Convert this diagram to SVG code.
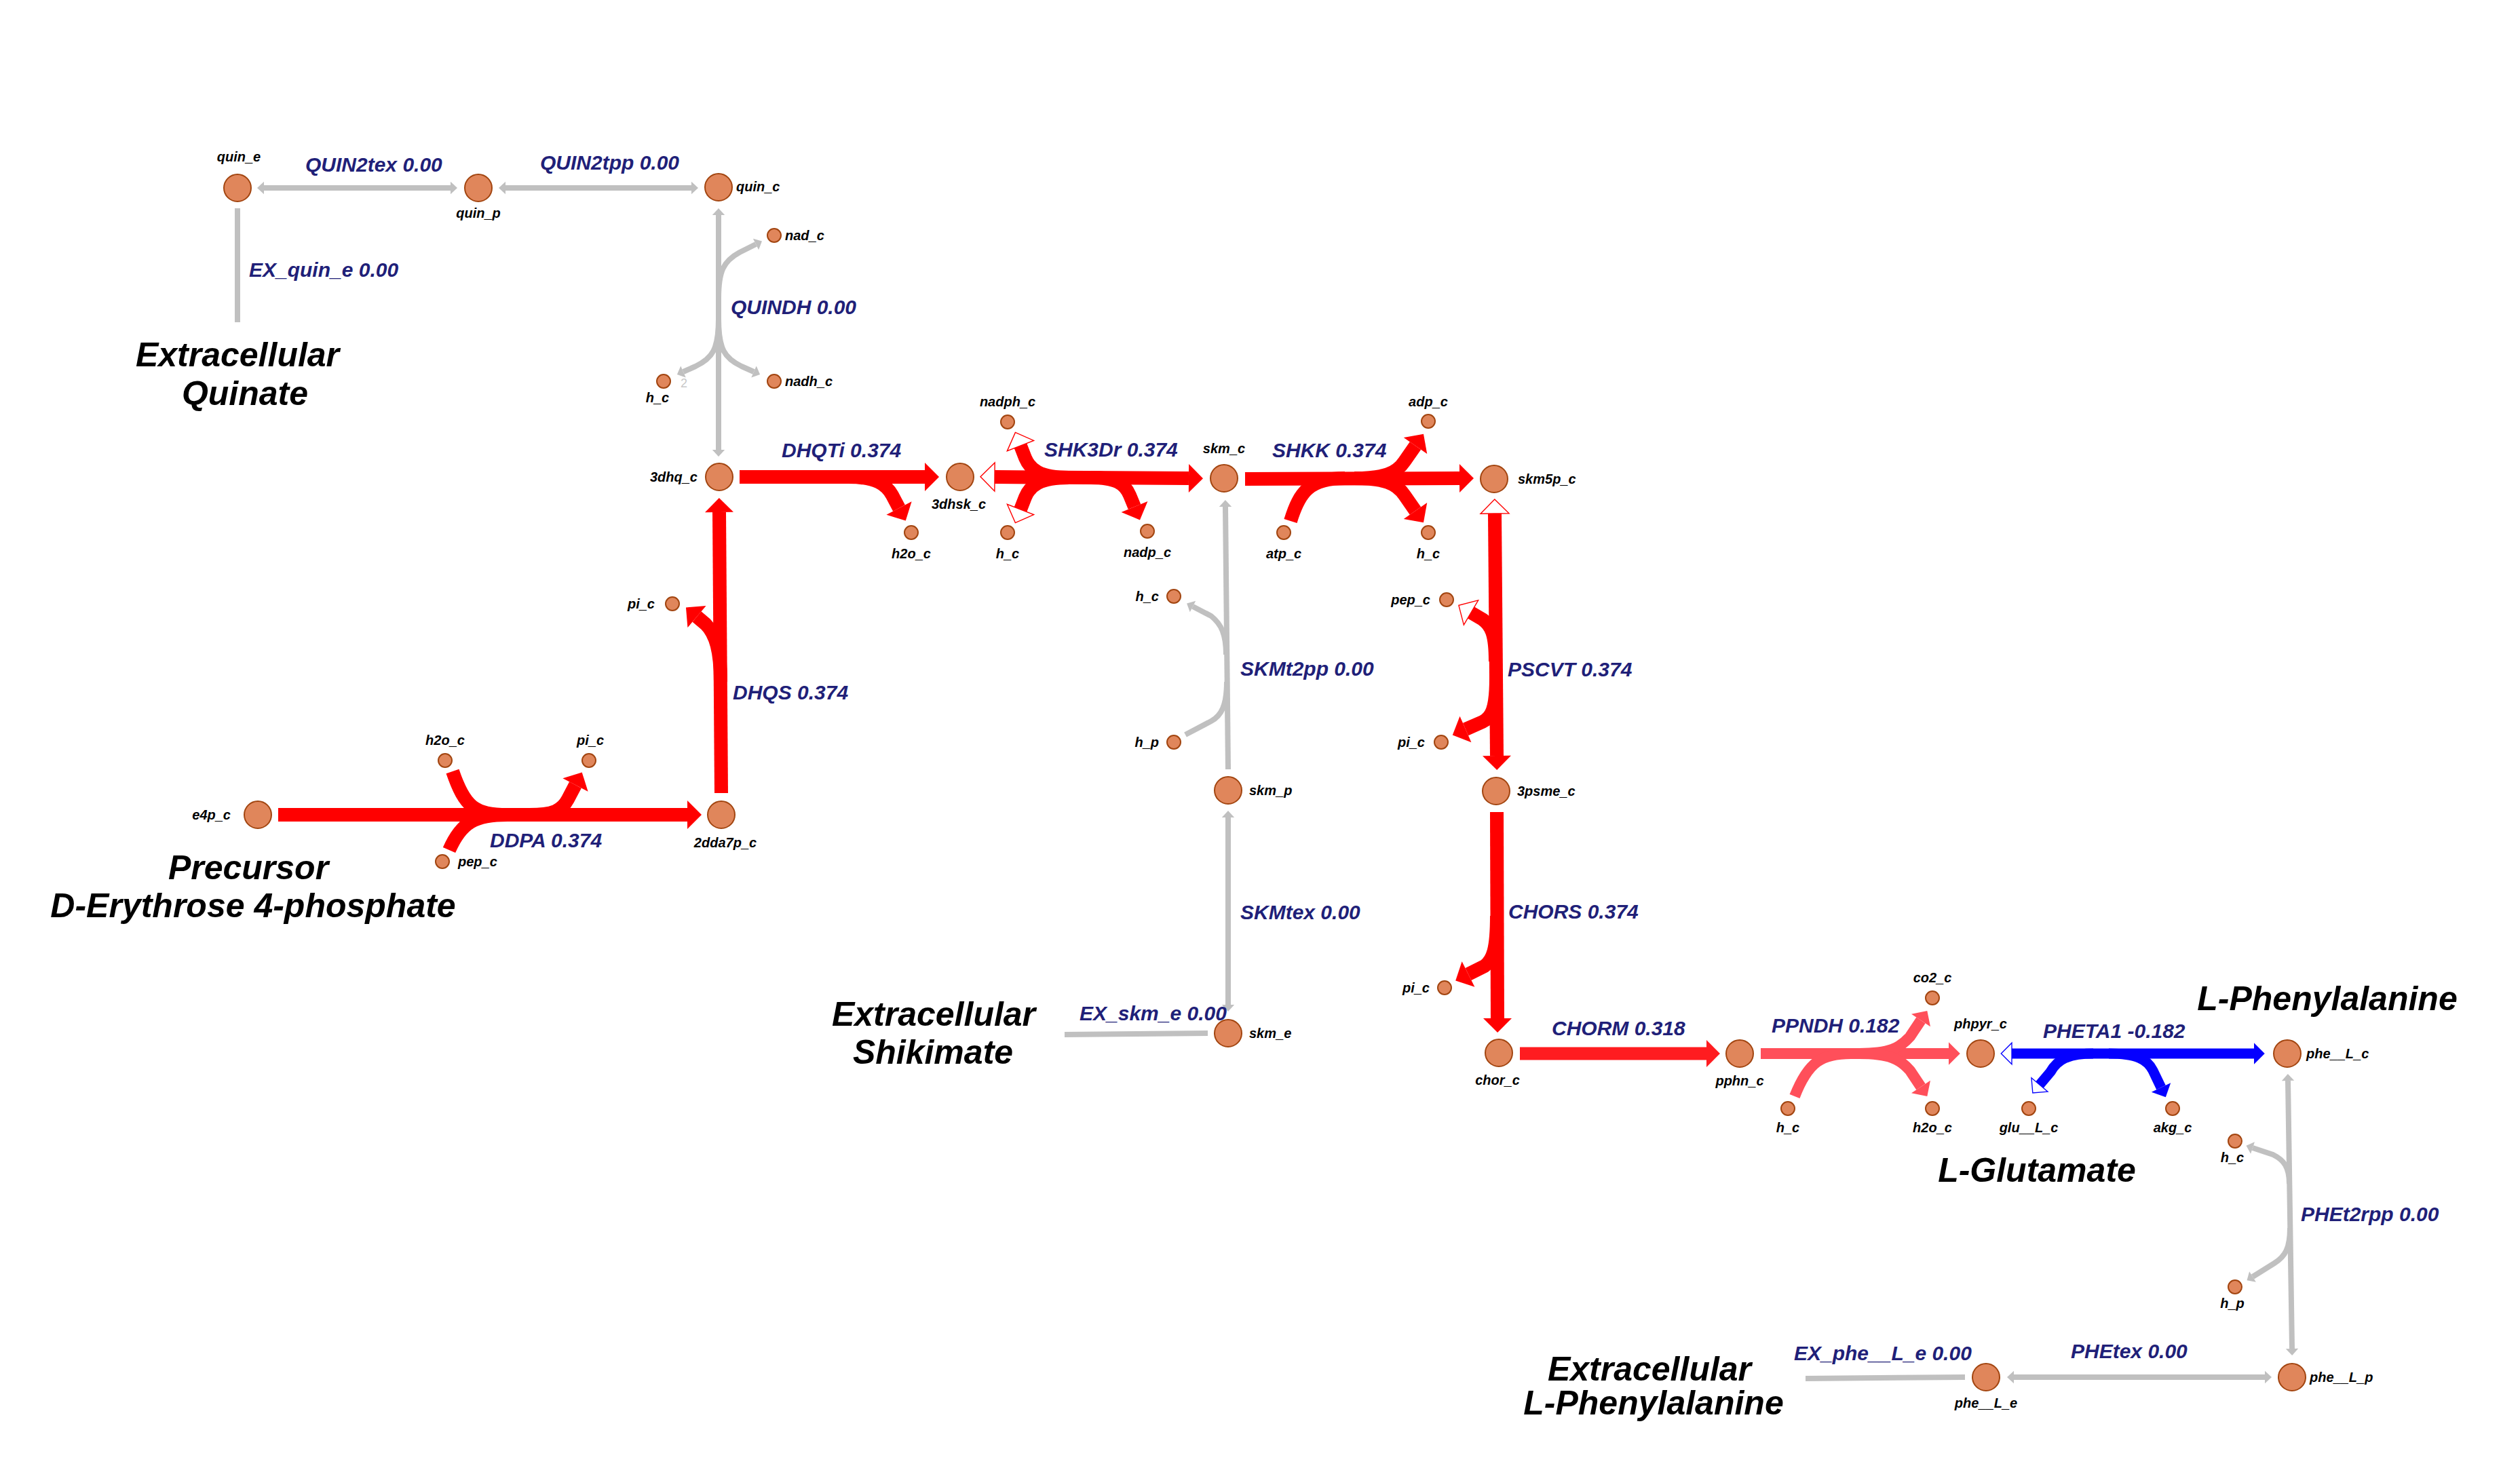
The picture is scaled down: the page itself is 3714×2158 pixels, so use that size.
<svg xmlns="http://www.w3.org/2000/svg" width="3714" height="2158" viewBox="0 0 3714 2158">
  <style>
    .s { fill: none; stroke-linecap: butt; stroke-linejoin: round; }
    .red { stroke: #ff0000; stroke-width: 20; }
    .red2 { stroke: #ff1c20; stroke-width: 19; }
    .pink { stroke: #ff4f5a; stroke-width: 16; }
    .blue { stroke: #0500ff; stroke-width: 15; }
    .gray { stroke: #c0c0c0; stroke-width: 8; }
    .met circle { fill: #e0865b; stroke: #a24510; stroke-width: 2; }
    text { font-family: "Liberation Sans", Arial, sans-serif; font-style: italic; font-weight: bold; }
    .m { font-size: 20px; fill: #000; }
    .r { font-size: 30px; fill: #202078; }
    .big { font-size: 50px; fill: #000; text-anchor: middle; }
    .st { font-size: 18px; font-style: normal; font-weight: normal; fill: #c8c8c8; }
    .c { text-anchor: middle; }
    .e { text-anchor: end; }
  </style>
  <defs>
    <!-- arrowheads scale with the stroke width of the path they end -->
    <marker id="arR" viewBox="0 -1.05 1.05 2.1" markerWidth="1.05" markerHeight="2.1" refX="0" refY="0" orient="auto-start-reverse" overflow="visible">
      <path d="M0,-1.05 L1.05,0 L0,1.05 Z" fill="#ff0000"/>
    </marker>
    <marker id="hoR" viewBox="0 -1.05 1.05 2.1" markerWidth="1.05" markerHeight="2.1" refX="0" refY="0" orient="auto-start-reverse" overflow="visible">
      <path d="M0,-1.05 L1.05,0 L0,1.05 Z" fill="#ffffff" stroke="#ff0000" stroke-width="0.07"/>
    </marker>
    <marker id="arR2" viewBox="0 -1.05 1.05 2.1" markerWidth="1.05" markerHeight="2.1" refX="0" refY="0" orient="auto-start-reverse" overflow="visible">
      <path d="M0,-1.05 L1.05,0 L0,1.05 Z" fill="#ff1c20"/>
    </marker>
    <marker id="arP" viewBox="0 -1.05 1.05 2.1" markerWidth="1.05" markerHeight="2.1" refX="0" refY="0" orient="auto-start-reverse" overflow="visible">
      <path d="M0,-1.05 L1.05,0 L0,1.05 Z" fill="#ff4f5a"/>
    </marker>
    <marker id="arB" viewBox="0 -1.05 1.05 2.1" markerWidth="1.05" markerHeight="2.1" refX="0" refY="0" orient="auto-start-reverse" overflow="visible">
      <path d="M0,-1.05 L1.05,0 L0,1.05 Z" fill="#0500ff"/>
    </marker>
    <marker id="hoB" viewBox="0 -1.05 1.05 2.1" markerWidth="1.05" markerHeight="2.1" refX="0" refY="0" orient="auto-start-reverse" overflow="visible">
      <path d="M0,-1.05 L1.05,0 L0,1.05 Z" fill="#ffffff" stroke="#0500ff" stroke-width="0.09"/>
    </marker>
    <marker id="arG" viewBox="0 -1.15 1.25 2.3" markerWidth="1.25" markerHeight="2.3" refX="0" refY="0" orient="auto-start-reverse" overflow="visible">
      <path d="M0,-1.15 L1.25,0 L0,1.15 Z" fill="#c0c0c0"/>
    </marker>
  </defs>

  <rect width="3714" height="2158" fill="#ffffff"/>

  <!-- reactions -->
  <g id="connectors">
    <g id="QUIN2tex">
      <path class="s gray" d="M389,277 L664,277" marker-start="url(#arG)" marker-end="url(#arG)"/>
      <text class="r" x="450" y="253">QUIN2tex 0.00</text>
    </g>
    <g id="QUIN2tpp">
      <path class="s gray" d="M745,277 L1019,277" marker-start="url(#arG)" marker-end="url(#arG)"/>
      <text class="r" x="796" y="250">QUIN2tpp 0.00</text>
    </g>
    <g id="EX_quin_e">
      <path class="s gray" d="M350,307 L350,475"/>
      <text class="r" x="367" y="408">EX_quin_e 0.00</text>
    </g>
    <g id="QUINDH">
      <path class="s gray" d="M1059,317 L1059,663" marker-start="url(#arG)" marker-end="url(#arG)"/>
      <path class="s gray" d="M1059,440 C1059,400 1066,385 1090,372 L1114,360" marker-end="url(#arG)"/>
      <path class="s gray" d="M1059,470 C1059,515 1050,528 1025,540 L1007,548" marker-end="url(#arG)"/>
      <path class="s gray" d="M1059,470 C1059,515 1068,528 1093,540 L1111,548" marker-end="url(#arG)"/>
      <text class="st" x="1003" y="571">2</text>
      <text class="r" x="1077" y="463">QUINDH 0.00</text>
    </g>
    <g id="DHQTi">
      <path class="s red" d="M1090,703 L1363,703" marker-end="url(#arR)"/>
      <path class="s red" d="M1250,703 C1292,703 1306,714 1315,730 L1325,749" marker-end="url(#arR)"/>
      <text class="r" x="1152" y="674">DHQTi 0.374</text>
    </g>
    <g id="SHK3Dr">
      <path class="s red" d="M1466,703 L1752,705" marker-start="url(#hoR)" marker-end="url(#arR)"/>
      <path class="s red" d="M1575,704 C1532,704 1518,692 1511,675 L1504,657" marker-end="url(#hoR)"/>
      <path class="s red" d="M1575,704 C1532,704 1518,716 1511,733 L1504,751" marker-end="url(#hoR)"/>
      <path class="s red" d="M1608,704 C1645,704 1658,713 1665,730 L1672,747" marker-end="url(#arR)"/>
      <text class="r" x="1539" y="673">SHK3Dr 0.374</text>
    </g>
    <g id="SHKK">
      <path class="s red" d="M1835,706 L2151,705" marker-end="url(#arR)"/>
      <path class="s red" d="M1902,768 C1915,725 1930,705 1982,705"/>
      <path class="s red" d="M1996,705 C2040,705 2058,698 2070,680 L2086,657" marker-end="url(#arR)"/>
      <path class="s red" d="M1996,705 C2040,705 2058,712 2070,730 L2086,753" marker-end="url(#arR)"/>
      <text class="r" x="1875" y="674">SHKK 0.374</text>
    </g>
    <g id="DHQS">
      <path class="s red" d="M1063,1169 L1060,755" marker-end="url(#arR)"/>
      <path class="s red" d="M1062,1005 C1062,960 1055,935 1040,920 L1027,909" marker-end="url(#arR)"/>
      <text class="r" x="1080" y="1031">DHQS 0.374</text>
    </g>
    <g id="DDPA">
      <path class="s red" d="M410,1201 L1013,1201" marker-end="url(#arR)"/>
      <path class="s red" d="M667,1137 C685,1190 700,1201 748,1201"/>
      <path class="s red" d="M662,1253 C680,1212 700,1201 748,1201"/>
      <path class="s red" d="M780,1201 C815,1201 828,1195 837,1178 L848,1157" marker-end="url(#arR)"/>
      <text class="r" x="722" y="1249">DDPA 0.374</text>
    </g>
    <g id="SKMt2pp">
      <path class="s gray" d="M1810,1134 L1806,747" marker-end="url(#arG)"/>
      <path class="s gray" d="M1807,965 C1807,935 1800,920 1785,908 L1758,894" marker-end="url(#arG)"/>
      <path class="s gray" d="M1808,1005 C1808,1040 1800,1055 1785,1063 L1747,1083"/>
      <text class="r" x="1828" y="996">SKMt2pp 0.00</text>
    </g>
    <g id="SKMtex">
      <path class="s gray" d="M1810,1481 L1810,1205" marker-start="url(#arG)" marker-end="url(#arG)"/>
      <text class="r" x="1828" y="1355">SKMtex 0.00</text>
    </g>
    <g id="EX_skm_e">
      <path class="s gray" d="M1569,1525 L1780,1523"/>
      <text class="r" x="1591" y="1504">EX_skm_e 0.00</text>
    </g>
    <g id="PSCVT">
      <path class="s red" d="M2203,757 L2206,1114" marker-start="url(#hoR)" marker-end="url(#arR)"/>
      <path class="s red" d="M2204,975 C2204,935 2198,922 2185,913 L2168,903" marker-end="url(#hoR)"/>
      <path class="s red" d="M2205,1000 C2205,1045 2198,1058 2185,1064 L2160,1075" marker-end="url(#arR)"/>
      <text class="r" x="2222" y="997">PSCVT 0.374</text>
    </g>
    <g id="CHORS">
      <path class="s red" d="M2206,1197 L2207,1501" marker-end="url(#arR)"/>
      <path class="s red" d="M2206,1350 C2206,1400 2200,1415 2188,1424 L2164,1436" marker-end="url(#arR)"/>
      <text class="r" x="2223" y="1354">CHORS 0.374</text>
    </g>
    <g id="CHORM">
      <path class="s red2" d="M2240,1553 L2515,1553" marker-end="url(#arR2)"/>
      <text class="r" x="2287" y="1526">CHORM 0.318</text>
    </g>
    <g id="PPNDH">
      <path class="s pink" d="M2595,1553 L2872,1553" marker-end="url(#arP)"/>
      <path class="s pink" d="M2645,1616 C2665,1565 2685,1553 2728,1553"/>
      <path class="s pink" d="M2740,1553 C2785,1553 2800,1545 2815,1528 L2831,1504" marker-end="url(#arP)"/>
      <path class="s pink" d="M2740,1553 C2785,1553 2800,1561 2815,1578 L2831,1602" marker-end="url(#arP)"/>
      <text class="r" x="2611" y="1522">PPNDH 0.182</text>
    </g>
    <g id="PHETA1">
      <path class="s blue" d="M2965,1553 L3322,1553" marker-start="url(#hoB)" marker-end="url(#arB)"/>
      <path class="s blue" d="M3085,1553 C3048,1553 3032,1562 3022,1580 L3006,1599" marker-end="url(#hoB)"/>
      <path class="s blue" d="M3108,1553 C3150,1553 3165,1562 3173,1578 L3185,1603" marker-end="url(#arB)"/>
      <text class="r" x="3011" y="1530">PHETA1 -0.182</text>
    </g>
    <g id="PHEt2rpp">
      <path class="s gray" d="M3372,1593 L3378,1988" marker-start="url(#arG)" marker-end="url(#arG)"/>
      <path class="s gray" d="M3374,1745 C3374,1720 3366,1710 3350,1702 L3320,1692" marker-end="url(#arG)"/>
      <path class="s gray" d="M3375,1810 C3375,1840 3368,1852 3352,1862 L3320,1882" marker-end="url(#arG)"/>
      <text class="r" x="3391" y="1800">PHEt2rpp 0.00</text>
    </g>
    <g id="PHEtex">
      <path class="s gray" d="M2968,2030 L3338,2030" marker-start="url(#arG)" marker-end="url(#arG)"/>
      <text class="r" x="3052" y="2002">PHEtex 0.00</text>
    </g>
    <g id="EX_phe__L_e">
      <path class="s gray" d="M2661,2032 L2896,2030"/>
      <text class="r" x="2644" y="2005">EX_phe__L_e 0.00</text>
    </g>
  </g>

  <!-- metabolites -->
  <g id="nodes">
    <g id="quin_e" class="met"><circle cx="350" cy="277" r="20"/><text class="m c" x="352" y="238">quin_e</text></g>
    <g id="quin_p" class="met"><circle cx="705" cy="277" r="20"/><text class="m c" x="705" y="321">quin_p</text></g>
    <g id="quin_c" class="met"><circle cx="1059" cy="276" r="20"/><text class="m" x="1085" y="282">quin_c</text></g>
    <g id="nad_c" class="met"><circle cx="1141" cy="347" r="10"/><text class="m" x="1157" y="354">nad_c</text></g>
    <g id="h_c_quindh" class="met"><circle cx="978" cy="562" r="10"/><text class="m c" x="969" y="593">h_c</text></g>
    <g id="nadh_c" class="met"><circle cx="1141" cy="562" r="10"/><text class="m" x="1157" y="569">nadh_c</text></g>
    <g id="3dhq_c" class="met"><circle cx="1060" cy="703" r="20"/><text class="m e" x="1028" y="710">3dhq_c</text></g>
    <g id="3dhsk_c" class="met"><circle cx="1415" cy="703" r="20"/><text class="m c" x="1413" y="750">3dhsk_c</text></g>
    <g id="skm_c" class="met"><circle cx="1804" cy="705" r="20"/><text class="m c" x="1804" y="668">skm_c</text></g>
    <g id="skm5p_c" class="met"><circle cx="2202" cy="706" r="20"/><text class="m" x="2237" y="713">skm5p_c</text></g>
    <g id="h2o_c_dhqti" class="met"><circle cx="1343" cy="785" r="10"/><text class="m c" x="1343" y="823">h2o_c</text></g>
    <g id="nadph_c" class="met"><circle cx="1485" cy="622" r="10"/><text class="m c" x="1485" y="599">nadph_c</text></g>
    <g id="h_c_shk3dr" class="met"><circle cx="1485" cy="785" r="10"/><text class="m c" x="1485" y="823">h_c</text></g>
    <g id="nadp_c" class="met"><circle cx="1691" cy="783" r="10"/><text class="m c" x="1691" y="821">nadp_c</text></g>
    <g id="atp_c" class="met"><circle cx="1892" cy="785" r="10"/><text class="m c" x="1892" y="823">atp_c</text></g>
    <g id="adp_c" class="met"><circle cx="2105" cy="621" r="10"/><text class="m c" x="2105" y="599">adp_c</text></g>
    <g id="h_c_shkk" class="met"><circle cx="2105" cy="785" r="10"/><text class="m c" x="2105" y="823">h_c</text></g>
    <g id="pi_c_dhqs" class="met"><circle cx="991" cy="890" r="10"/><text class="m e" x="965" y="897">pi_c</text></g>
    <g id="e4p_c" class="met"><circle cx="380" cy="1201" r="20"/><text class="m e" x="340" y="1208">e4p_c</text></g>
    <g id="2dda7p_c" class="met"><circle cx="1063" cy="1201" r="20"/><text class="m c" x="1069" y="1249">2dda7p_c</text></g>
    <g id="h2o_c_ddpa" class="met"><circle cx="656" cy="1121" r="10"/><text class="m c" x="656" y="1098">h2o_c</text></g>
    <g id="pi_c_ddpa" class="met"><circle cx="868" cy="1121" r="10"/><text class="m c" x="870" y="1098">pi_c</text></g>
    <g id="pep_c_ddpa" class="met"><circle cx="652" cy="1270" r="10"/><text class="m" x="675" y="1277">pep_c</text></g>
    <g id="h_c_skmt2pp" class="met"><circle cx="1730" cy="879" r="10"/><text class="m e" x="1708" y="886">h_c</text></g>
    <g id="h_p_skmt2pp" class="met"><circle cx="1730" cy="1094" r="10"/><text class="m e" x="1708" y="1101">h_p</text></g>
    <g id="skm_p" class="met"><circle cx="1810" cy="1165" r="20"/><text class="m" x="1841" y="1172">skm_p</text></g>
    <g id="skm_e" class="met"><circle cx="1810" cy="1523" r="20"/><text class="m" x="1841" y="1530">skm_e</text></g>
    <g id="pep_c_pscvt" class="met"><circle cx="2132" cy="884" r="10"/><text class="m e" x="2108" y="891">pep_c</text></g>
    <g id="pi_c_pscvt" class="met"><circle cx="2124" cy="1094" r="10"/><text class="m e" x="2100" y="1101">pi_c</text></g>
    <g id="3psme_c" class="met"><circle cx="2205" cy="1166" r="20"/><text class="m" x="2236" y="1173">3psme_c</text></g>
    <g id="pi_c_chors" class="met"><circle cx="2129" cy="1456" r="10"/><text class="m e" x="2107" y="1463">pi_c</text></g>
    <g id="chor_c" class="met"><circle cx="2209" cy="1552" r="20"/><text class="m c" x="2207" y="1599">chor_c</text></g>
    <g id="pphn_c" class="met"><circle cx="2564" cy="1553" r="20"/><text class="m c" x="2564" y="1600">pphn_c</text></g>
    <g id="h_c_ppndh" class="met"><circle cx="2635" cy="1634" r="10"/><text class="m c" x="2635" y="1669">h_c</text></g>
    <g id="co2_c" class="met"><circle cx="2848" cy="1471" r="10"/><text class="m c" x="2848" y="1448">co2_c</text></g>
    <g id="h2o_c_ppndh" class="met"><circle cx="2848" cy="1634" r="10"/><text class="m c" x="2848" y="1669">h2o_c</text></g>
    <g id="phpyr_c" class="met"><circle cx="2919" cy="1553" r="20"/><text class="m c" x="2919" y="1516">phpyr_c</text></g>
    <g id="glu__L_c" class="met"><circle cx="2990" cy="1634" r="10"/><text class="m c" x="2990" y="1669">glu__L_c</text></g>
    <g id="akg_c" class="met"><circle cx="3202" cy="1634" r="10"/><text class="m c" x="3202" y="1669">akg_c</text></g>
    <g id="phe__L_c" class="met"><circle cx="3371" cy="1553" r="20"/><text class="m" x="3399" y="1560">phe__L_c</text></g>
    <g id="h_c_phet2rpp" class="met"><circle cx="3294" cy="1682" r="10"/><text class="m c" x="3290" y="1713">h_c</text></g>
    <g id="h_p_phet2rpp" class="met"><circle cx="3294" cy="1897" r="10"/><text class="m c" x="3290" y="1928">h_p</text></g>
    <g id="phe__L_p" class="met"><circle cx="3378" cy="2030" r="20"/><text class="m" x="3404" y="2037">phe__L_p</text></g>
    <g id="phe__L_e" class="met"><circle cx="2927" cy="2030" r="20"/><text class="m c" x="2927" y="2075">phe__L_e</text></g>
  </g>

  <!-- free-standing captions -->
  <g id="captions">
    <text class="big" x="350" y="540">Extracellular</text>
    <text class="big" x="361" y="597">Quinate</text>
    <text class="big" x="366" y="1296">Precursor</text>
    <text class="big" x="373" y="1352">D-Erythrose 4-phosphate</text>
    <text class="big" x="1376" y="1512">Extracellular</text>
    <text class="big" x="1375" y="1568">Shikimate</text>
    <text class="big" x="3430" y="1489">L-Phenylalanine</text>
    <text class="big" x="3002" y="1742">L-Glutamate</text>
    <text class="big" x="2431" y="2035">Extracellular</text>
    <text class="big" x="2437" y="2085">L-Phenylalanine</text>
  </g>
</svg>
